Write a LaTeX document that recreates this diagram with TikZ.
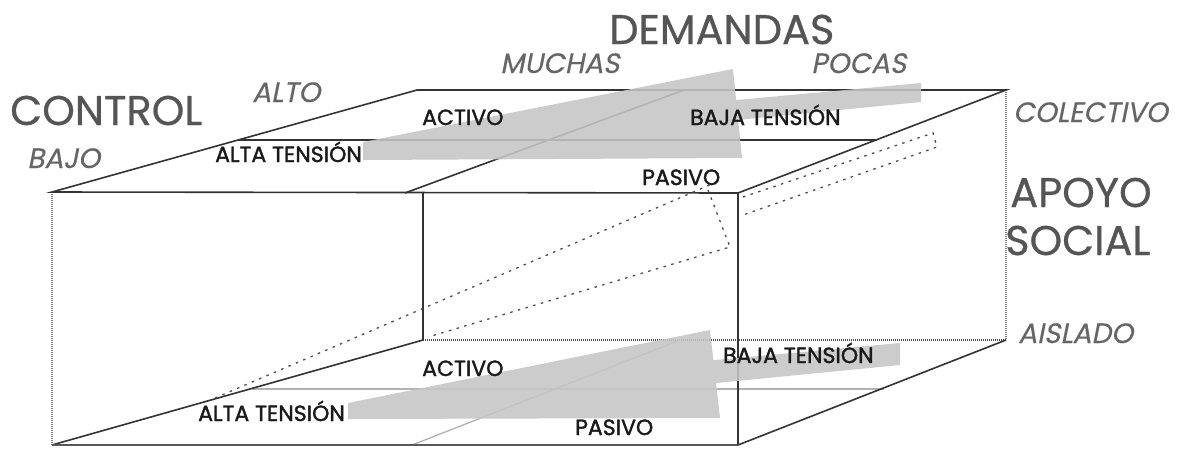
\documentclass[tikz,border=0pt]{standalone}
\usepackage{fontspec}
\setmainfont{Poppins}
\newfontfamily\slfont[FakeSlant=0.2,FakeBold=0.3]{Poppins}
\newfontfamily\labfont[FakeBold=1.5]{Poppins}
\newfontfamily\bigfont[FakeBold=0.6]{Poppins}
\definecolor{bigc}{HTML}{555555}
\definecolor{itc}{HTML}{666666}
\definecolor{labc}{HTML}{1A1A1A}
\definecolor{linec}{HTML}{333333}
\definecolor{arrc}{HTML}{C6C6C6}
\begin{document}
\begin{tikzpicture}[x=1pt,y=-1pt,
  solidln/.style={draw=linec,line width=1.6pt},
  hatchln/.style={draw=black!50,line width=2pt,dash pattern=on 1pt off 1pt},
  softln/.style={draw=black!30,line width=1.3pt},
  dotln/.style={draw=black!70,line width=1.3pt,dash pattern=on 2.5pt off 5.5pt},
  wedge/.style={fill=arrc,fill opacity=0.88},
  bigtxt/.style={anchor=base west,inner sep=0pt,text=bigc,font=\bigfont\fontsize{41.5}{42}\selectfont},
  ittxt/.style={anchor=base west,inner sep=0pt,text=itc,font=\slfont\fontsize{28}{28}\selectfont},
  labtxt/.style={anchor=base west,inner sep=0pt,text=labc,font=\labfont\fontsize{22}{22}\selectfont}]
\useasboundingbox (0,0) rectangle (1183,448);
\fill[white] (0,0) rectangle (1183,448);
% corners
\coordinate (TFL) at (52,192); \coordinate (TFR) at (738,193);
\coordinate (TBL) at (417,90); \coordinate (TBR) at (1006,90);
\coordinate (TML) at (238,140); \coordinate (TMR) at (877,140);
\coordinate (TFM) at (405,193); \coordinate (TBM) at (684,90);
\coordinate (VMT) at (423,193);
\coordinate (BFL) at (52,445); \coordinate (BFR) at (738,445);
\coordinate (BBL) at (423,340); \coordinate (BBR) at (1006,340);
\coordinate (BML) at (252,389); \coordinate (BMR) at (884,389);
\coordinate (BFM) at (412,445); \coordinate (BBM) at (680,340);
% hatched edges
\draw[hatchln] (TFL) -- (BFL);
\draw[hatchln] (TBR) -- (BBR);
\draw[hatchln,draw=black!70] (BBL) -- (BBR);
% bottom face
\draw[softln] (BML) -- (BMR);
\draw[softln] (BFM) -- (BBM);
\draw[solidln] (BFL) -- (BBL);
\draw[solidln] (BFR) -- (BBR);
\draw[solidln,draw=black!65] (BFL) -- (BFR);
% verticals
\draw[solidln] (VMT) -- (BBL);
\draw[solidln] (TFR) -- (BFR);
% top face
\draw[solidln] (TFL) -- (TFR) -- (TBR) -- (TBL) -- cycle;
\draw[solidln] (TML) -- (TMR);
\draw[solidln] (TFM) -- (TBM);
% dotted slab
\coordinate (D1) at (215,398); \coordinate (D2) at (712,184);
\coordinate (D3) at (708,190); \coordinate (D4) at (730,247);
\coordinate (D5) at (428,337);
\coordinate (D6) at (743,197); \coordinate (D7) at (933,133);
\coordinate (D8) at (937,147); \coordinate (D9) at (743,215);
\draw[dotln] (D1) -- (D2);
\draw[dotln] (D3) -- (D4) -- (D5);
\draw[dotln] (D6) -- (D7) -- (D8) -- (D9);
% grey wedges
\fill[wedge] (363,142) -- (733,69) -- (742,158) -- (363,160) -- cycle
             (650,108) -- (921,83) -- (921,102) -- (650,128.5) -- cycle;
\fill[wedge] (348,403) -- (710,330) -- (720,418) -- (348,419) -- cycle
             (650,366) -- (900,343) -- (900,365) -- (650,389.5) -- cycle;
% big labels
\node[bigtxt] (control) at (10,125) {CONTROL};
\node[bigtxt] (demandas) at (609,44) {DEMANDAS};
\node[bigtxt] (apoyo) at (1010,207) {APOYO};
\node[bigtxt] (social) at (1005,255) {SOCIAL};
% italic labels
\node[ittxt] (alto) at (252,102) {ALTO};
\node[ittxt] (bajo) at (27,168) {BAJO};
\node[ittxt] (muchas) at (500,73) {MUCHAS};
\node[ittxt] (pocas) at (811,73) {POCAS};
\node[ittxt] (colectivo) at (1013,122) {COLECTIVO};
\node[ittxt] (aislado) at (1018,343) {AISLADO};
% inner labels
\node[labtxt] (activoT) at (422,125) {ACTIVO};
\node[labtxt] (bajaT) at (690,125) {BAJA TENSIÓN};
\node[labtxt] (altaT) at (215,162) {ALTA TENSIÓN};
\node[labtxt] (pasivoT) at (642,185) {PASIVO};
\node[labtxt] (activoB) at (422,376) {ACTIVO};
\node[labtxt] (bajaB) at (723,363) {BAJA TENSIÓN};
\node[labtxt] (altaB) at (198,421) {ALTA TENSIÓN};
\node[labtxt] (pasivoB) at (575,435) {PASIVO};
\end{tikzpicture}
\end{document}
